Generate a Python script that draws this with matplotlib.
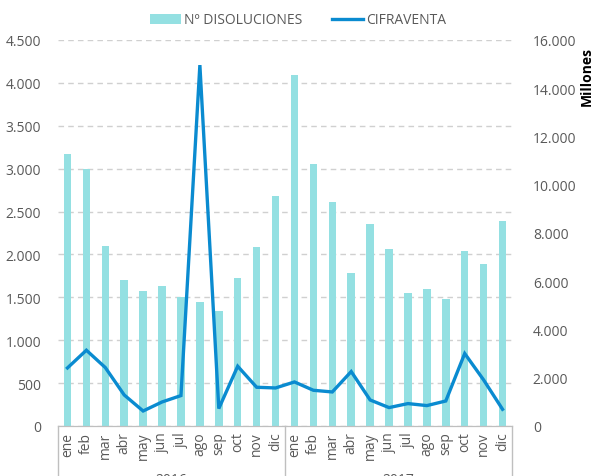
import matplotlib
matplotlib.use("Agg")
import matplotlib.pyplot as plt
import matplotlib.transforms as mtransforms
from matplotlib.ticker import FuncFormatter, MultipleLocator
import numpy as np

plt.rcParams['font.family'] = ['Open Sans', 'DejaVu Sans']

months = ["ene", "feb", "mar", "abr", "may", "jun", "jul", "ago", "sep", "oct", "nov", "dic"]
years = ["2016", "2017"]
categories = months + months

disoluciones = [3175, 3000, 2100, 1706, 1572, 1628, 1500, 1445, 1345, 1730, 2092, 2681,
                4087, 3058, 2611, 1788, 2351, 2059, 1547, 1593, 1480, 2036, 1885, 2394]
cifraventa = [2407, 3141, 2423, 1286, 622, 996, 1261, 14960, 722, 2477, 1606, 1577,
              1826, 1481, 1411, 2257, 1079, 763, 929, 846, 1037, 3004, 1909, 693]

bar_color = "#94E0E2"
line_color = "#0A8BD0"
text_color = "#595959"

fig = plt.figure(figsize=(5.96, 4.77), dpi=100)
ax = fig.add_axes([58/596, 1-427/477, (512-58)/596, (427-41)/477])
ax2 = ax.twinx()

x = np.arange(len(categories))
b = ax.bar(x, disoluciones, width=0.4, color=bar_color, label="Nº DISOLUCIONES", zorder=2)
l, = ax2.plot(x, cifraventa, color=line_color, lw=2.4, label="CIFRAVENTA", zorder=3,
              solid_joinstyle='miter')

ax.set_xlim(-0.5, len(categories)-0.5)
ax.set_ylim(0, 4500)
ax2.set_ylim(0, 16000)
ax.yaxis.set_major_locator(MultipleLocator(500))
ax2.yaxis.set_major_locator(MultipleLocator(2000))

fmt = FuncFormatter(lambda v, p: f"{int(v):,}".replace(",", "."))
ax.yaxis.set_major_formatter(fmt)
ax2.yaxis.set_major_formatter(fmt)

ax.grid(axis='y', color="#D0D0D0", linestyle=(0, (4, 3)), lw=1, zorder=0)
ax.set_axisbelow(True)

for a in (ax, ax2):
    for s in ("top", "left", "right"):
        a.spines[s].set_visible(False)
    a.spines["bottom"].set_color("#BFBFBF")
    a.tick_params(axis='y', length=0, labelsize=10, labelcolor=text_color)
ax.tick_params(axis='y', pad=12)
ax2.tick_params(axis='y', pad=15)

ax.set_xticks(x)
ax.set_xticklabels(categories, rotation=90, fontsize=10, color=text_color)
ax.tick_params(axis='x', length=0, pad=4)

fig.text(587/596, 1-77/477, "Millones", rotation=90, ha='center', va='center',
         fontsize=10, fontweight='bold', color="black")

# group separators
trans = mtransforms.blended_transform_factory(ax.transData, ax.transAxes)
for xs in (-0.5, 11.5, 23.5):
    ax.plot([xs, xs], [0, -0.2], transform=trans, color="#BFBFBF", lw=1, clip_on=False)
for i, yr in enumerate(years):
    ax.text(5.5 + 12*i, -0.12, yr, transform=trans, ha='center', va='top',
            fontsize=10, color=text_color, clip_on=False)

fig.legend(handles=[b, l], loc='center', bbox_to_anchor=(0.5, 1-21/477), ncol=2,
           frameon=False, fontsize=10, handlelength=2.2, columnspacing=2.2,
           handletextpad=0.2, labelcolor=text_color)

fig.savefig("out.png", dpi=100)
